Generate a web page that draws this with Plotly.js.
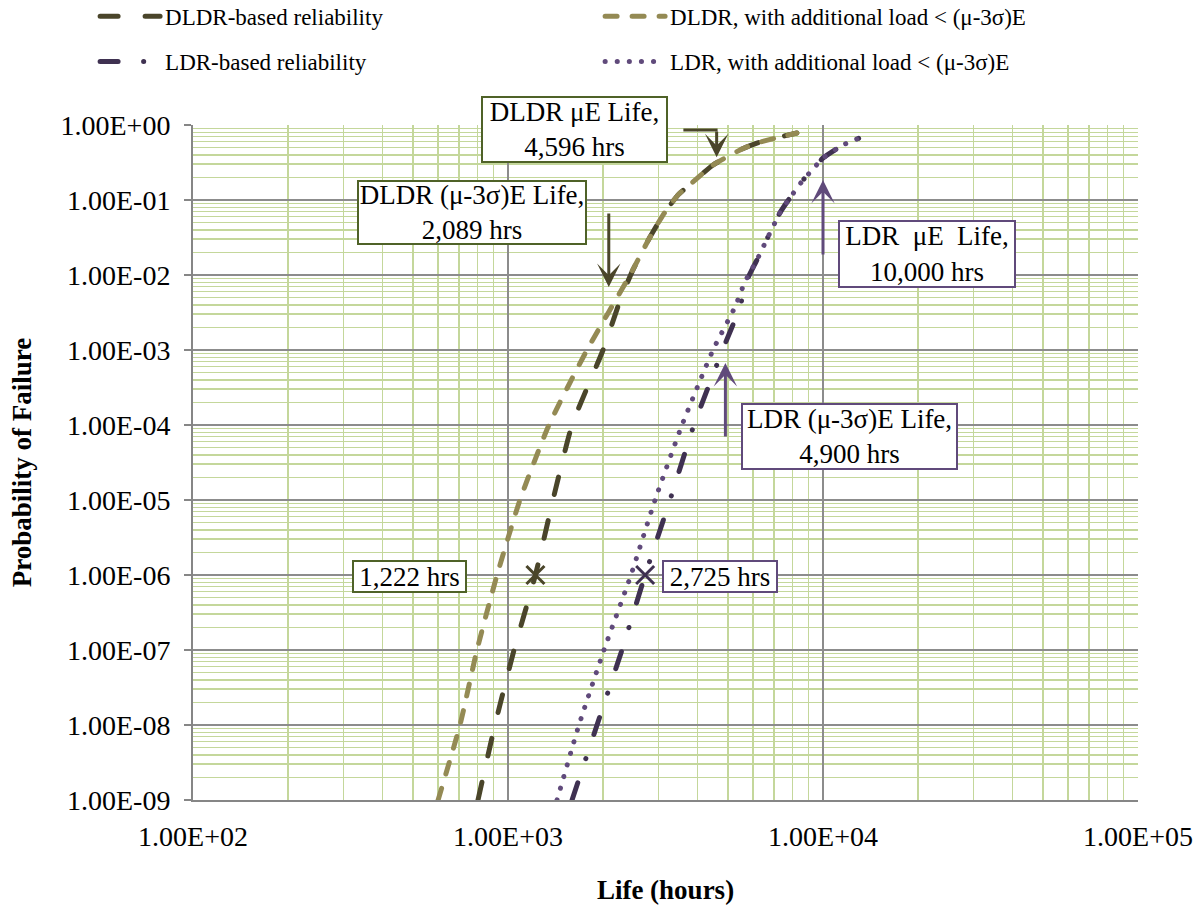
<!DOCTYPE html>
<html>
<head>
<meta charset="utf-8">
<script src="https://cdn.plot.ly/plotly-3.0.1.min.js"></script>
<style>
  html, body { margin: 0; padding: 0; background: #fff; }
  #chart { width: 1196px; height: 907px; }
  .scatterlayer .js-line, .legendlines path { stroke-linecap: round !important; }
</style>
</head>
<body>
<div id="chart"></div>
<script>
// ---- Data ----
const dldrLife    = [803, 909, 1045, 1222, 1389, 1597, 2003, 2270, 2476, 2824, 3105, 3467, 3866, 4477, 5534, 6170, 7295, 8260];
const dldrProb    = [1e-9, 1e-8, 1e-7, 1e-6, 1e-5, 1e-4, 1e-3, 4.6e-3, 0.011, 0.0321, 0.063, 0.117, 0.174, 0.293, 0.479, 0.575, 0.692, 0.782];

const dldrAddLife = [600, 704, 797, 923, 1091, 1349, 1781, 2440, 2824, 3105, 3467, 3866, 4477, 5534, 6170, 7295, 8260];
const dldrAddProb = [1e-9, 1e-8, 1e-7, 1e-6, 1e-5, 1e-4, 1e-3, 1e-2, 0.0321, 0.063, 0.117, 0.174, 0.293, 0.479, 0.575, 0.692, 0.782];

const ldrLife     = [1597, 1917, 2300, 2725, 3268, 3894, 4800, 5450, 5700, 6166, 6683, 7295, 7687, 8650, 9240, 10000, 11570, 13800];
const ldrProb     = [1e-9, 1e-8, 1e-7, 1e-6, 1e-5, 1e-4, 1e-3, 0.00374, 0.00807, 0.0158, 0.032, 0.067, 0.094, 0.185, 0.251, 0.363, 0.541, 0.736];

const ldrAddLife  = [1431, 1680, 2017, 2457, 2929, 3569, 4475, 5255, 5649, 6166, 6683, 7295, 7687, 8650, 9240, 10000, 11570, 13800];
const ldrAddProb  = [1e-9, 1e-8, 1e-7, 1e-6, 1e-5, 1e-4, 1e-3, 0.00374, 0.00807, 0.0158, 0.032, 0.067, 0.094, 0.185, 0.251, 0.363, 0.541, 0.736];

const seriesNames = [
  "DLDR-based reliability",
  "DLDR, with additional load < (\u03bc-3\u03c3)E",
  "LDR-based reliability",
  "LDR, with additional load < (\u03bc-3\u03c3)E"
];

const markLife = [1222, 2725];          // hrs at 1e-6
const markProb = [1e-6, 1e-6];

const dldrMuLife = 4596, dldrSigLife = 2089, ldrMuLife = 10000, ldrSigLife = 4900;

const yTickVals = [1e-9, 1e-8, 1e-7, 1e-6, 1e-5, 1e-4, 1e-3, 1e-2, 1e-1, 1];
const yTickText = ["1.00E-09","1.00E-08","1.00E-07","1.00E-06","1.00E-05","1.00E-04","1.00E-03","1.00E-02","1.00E-01","1.00E+00"];
const xTickVals = [100, 1000, 10000, 100000];
const xTickText = ["1.00E+02","1.00E+03","1.00E+04","1.00E+05"];

// ---- Styles ----
const cDark = "#4a452a", cLight = "#948a54", cPurpleDark = "#3f3151", cPurple = "#604a7b";
const cBoxOlive = "#4f6228";
const FONT = "'Liberation Serif', 'Times New Roman', serif";
const L = Math.log10;

const traces = [
  { x: dldrLife, y: dldrProb, name: seriesNames[0], mode: "lines", legend: "legend",
    line: { color: cDark, width: 5, dash: "18px,27px", shape: "spline", smoothing: 0.5 } },
  { x: dldrAddLife, y: dldrAddProb, name: seriesNames[1], mode: "lines", legend: "legend",
    line: { color: cLight, width: 5, dash: "12px,15px", shape: "spline", smoothing: 0.5 } },
  { x: ldrLife, y: ldrProb, name: seriesNames[2], mode: "lines", legend: "legend2",
    line: { color: cPurpleDark, width: 5, dash: "18px,25.5px,0.1px,25.5px", shape: "spline", smoothing: 0.5 } },
  { x: ldrAddLife, y: ldrAddProb, name: seriesNames[3], mode: "lines", legend: "legend2",
    line: { color: cPurple, width: 5, dash: "0.1px,12px", shape: "spline", smoothing: 0.5 } },
  { x: markLife, y: markProb, mode: "markers", showlegend: false, hoverinfo: "skip",
    marker: { symbol: "x-thin-open", size: 18, color: [cDark, cPurpleDark],
              line: { width: 3, color: [cDark, cPurpleDark] } } }
];

function box(text, cx, cy, w, h, border) {
  return { xref: "x", yref: "y", x: cx, y: cy, text: text, showarrow: false,
           font: { family: FONT, size: 27, color: "#000" },
           bgcolor: "#fff", bordercolor: border, borderwidth: 2, borderpad: 0,
           width: w, height: h, align: "center", valign: "middle" };
}
function arrow(xv, yFrom, yTo, color) {
  return { xref: "x", yref: "y", axref: "x", ayref: "y",
           x: L(xv), y: yTo, ax: L(xv), ay: yFrom, text: "", showarrow: true,
           arrowhead: 3, arrowsize: 1.3, arrowwidth: 3, arrowcolor: color, standoff: 0, startstandoff: 0 };
}

const annotations = [
  box("DLDR \u03bcE Life,<br>4,596 hrs", 3.211, -0.06, 183, 63, cBoxOlive),
  box("DLDR (\u03bc-3\u03c3)E Life,<br>2,089 hrs", 2.886, -1.167, 226, 61, cBoxOlive),
  box("LDR\u00a0\u00a0\u03bcE\u00a0\u00a0Life,<br>10,000 hrs", 4.330, -1.72, 174, 64, cPurple),
  box("LDR (\u03bc-3\u03c3)E Life,<br>4,900 hrs", 4.084, -4.153, 213, 63, cPurple),
  box("1,222 hrs", 2.687, -6.02, 111, 29, cBoxOlive),
  box("2,725 hrs", 3.673, -6.02, 112, 29, cPurple),
  // elbow part of the DLDR muE arrow
  { xref: "x", yref: "y", axref: "x", ayref: "y", x: L(dldrMuLife) + 0.003, y: -0.067, ax: 3.552, ay: -0.067,
    text: "", showarrow: true, arrowhead: 0, arrowwidth: 3, arrowcolor: cDark, standoff: 0 },
  arrow(dldrMuLife, -0.067, -0.43, cDark),
  arrow(dldrSigLife, -1.16, -2.16, cDark),
  arrow(ldrMuLife, -1.747, -0.733, cPurple),
  arrow(ldrSigLife, -4.173, -3.173, cPurple)
];

const legendCommon = {
  orientation: "h", xanchor: "left", yanchor: "top",
  font: { family: FONT, size: 23, color: "#000" },
  bgcolor: "rgba(0,0,0,0)", itemwidth: 60, entrywidth: 430, entrywidthmode: "pixels",
  itemclick: false, itemdoubleclick: false
};

const layout = {
  width: 1196, height: 907,
  margin: { l: 193, r: 58, t: 125, b: 107, autoexpand: false },
  paper_bgcolor: "#fff", plot_bgcolor: "#fff",
  font: { family: FONT, color: "#000" },
  showlegend: true,
  legend: Object.assign({}, legendCommon, { x: -0.1036, y: 1.193 }),
  legend2: Object.assign({}, legendCommon, { x: -0.1036, y: 1.126 }),
  xaxis: {
    type: "log", range: [2, 5],
    tickmode: "array", tickvals: xTickVals, ticktext: xTickText,
    tickfont: { family: FONT, size: 28, color: "#000" },
    ticks: "", ticklabelstandoff: 10,
    showgrid: true, gridcolor: "#8c8c8c", gridwidth: 1.5,
    minor: { tickmode: "linear", dtick: "D1", showgrid: true, gridcolor: "#c4d79b", gridwidth: 1.5, ticks: "" },
    showline: true, linecolor: "#868686", linewidth: 2, zeroline: false,
    title: { text: "<b>Life (hours)</b>", font: { family: FONT, size: 27, color: "#000" }, standoff: 30 }
  },
  yaxis: {
    type: "log", range: [-9, 0],
    tickmode: "array", tickvals: yTickVals, ticktext: yTickText,
    tickfont: { family: FONT, size: 28, color: "#000" },
    ticks: "outside", ticklen: 7, tickwidth: 2, tickcolor: "#868686", ticklabelstandoff: 8,
    showgrid: true, gridcolor: "#8c8c8c", gridwidth: 1.5,
    minor: { tickmode: "linear", dtick: "D1", showgrid: true, gridcolor: "#c4d79b", gridwidth: 1.5, ticks: "" },
    showline: true, linecolor: "#868686", linewidth: 2, zeroline: false,
    title: { text: "<b>Probability of Failure</b>", font: { family: FONT, size: 27, color: "#000" }, standoff: 21 }
  },
  annotations: annotations
};

Plotly.newPlot("chart", traces, layout, { staticPlot: true, displayModeBar: false });
</script>
</body>
</html>
